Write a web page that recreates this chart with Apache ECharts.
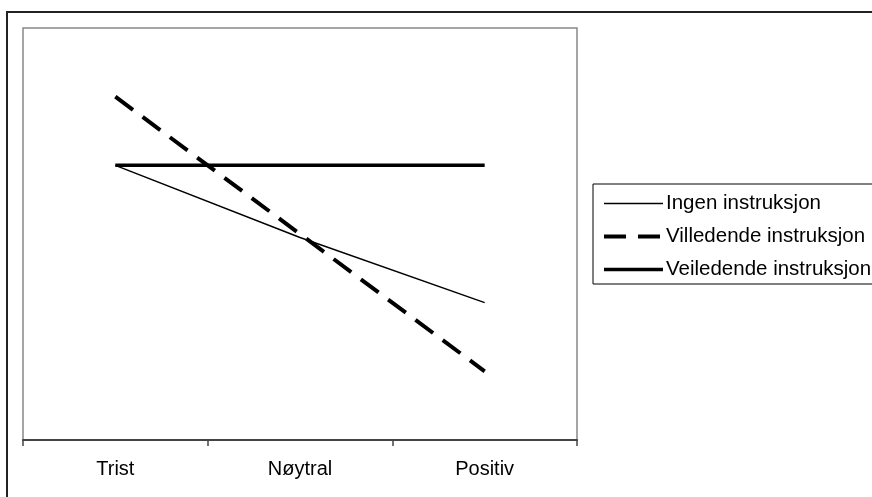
<!DOCTYPE html>
<html>
<head>
<meta charset="utf-8">
<script src="https://cdn.jsdelivr.net/npm/echarts@6/dist/echarts.min.js"></script>
<style>
html,body{margin:0;padding:0;background:#fff;}
#chart{width:872px;height:497px;}
</style>
</head>
<body>
<div id="chart"></div>
<script>
const categories = ['Trist', 'Nøytral', 'Positiv'];
const seriesNames = ['Ingen instruksjon', 'Villedende instruksjon', 'Veiledende instruksjon'];
const ingen = [4, 2.95, 2];
const villedende = [5, 3.0, 1];
const veiledende = [4, 4, 4];
const yMin = 0;
const yMax = 6;

const FONT = '"Liberation Sans", Arial, sans-serif';
const thin = {color: '#000', width: 1.5};
const dashed = {color: '#000', width: 4, type: [22, 12]};
const thick = {color: '#000', width: 3.5};

const chart = echarts.init(document.getElementById('chart'), null, {renderer: 'canvas'});
chart.setOption({
  animation: false,
  backgroundColor: '#fff',
  graphic: [{
    type: 'rect',
    shape: {x: 7, y: 12, width: 1000, height: 600},
    style: {fill: 'none', stroke: '#222', lineWidth: 2},
    silent: true
  }],
  grid: {
    left: 23, top: 28, right: 295, bottom: 57,
    show: true, borderColor: '#888', borderWidth: 1.5, backgroundColor: '#fff'
  },
  legend: {
    orient: 'vertical',
    left: 593, top: 184,
    padding: [9, 12, 4, 9],
    borderColor: '#000', borderWidth: 1,
    itemWidth: 59, itemHeight: 20, itemGap: 12,
    itemStyle: {opacity: 0},
    textStyle: {fontFamily: FONT, fontSize: 20.5, color: '#000', padding: [0, 0, 0, -2]},
    data: [
      {name: seriesNames[0], lineStyle: thin},
      {name: seriesNames[1], lineStyle: dashed},
      {name: seriesNames[2], lineStyle: thick}
    ]
  },
  xAxis: {
    type: 'category',
    data: categories,
    boundaryGap: true,
    axisLine: {show: true, lineStyle: {color: '#444', width: 2}},
    axisTick: {show: true, length: 6, lineStyle: {color: '#444', width: 1.5}},
    axisLabel: {fontFamily: FONT, fontSize: 20, color: '#000', margin: 19},
    splitLine: {show: false}
  },
  yAxis: {
    type: 'value', min: yMin, max: yMax, show: false, splitLine: {show: false}
  },
  series: [
    {name: seriesNames[0], type: 'line', data: ingen, symbol: 'none',
     lineStyle: thin, itemStyle: {color: '#000'}},
    {name: seriesNames[1], type: 'line', data: villedende, symbol: 'none',
     lineStyle: dashed, itemStyle: {color: '#000'}},
    {name: seriesNames[2], type: 'line', data: veiledende, symbol: 'none',
     lineStyle: thick, itemStyle: {color: '#000'}}
  ]
});
</script>
</body>
</html>
